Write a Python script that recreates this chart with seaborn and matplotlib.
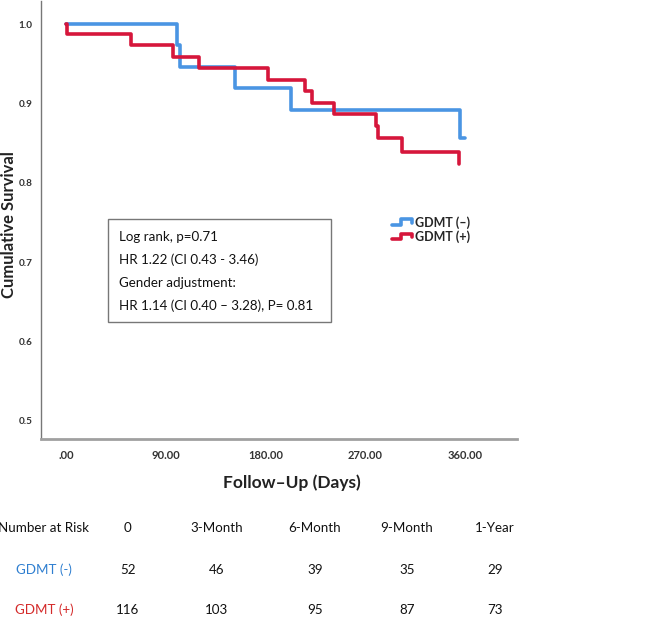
import matplotlib
matplotlib.use("Agg")
import matplotlib.pyplot as plt
import seaborn as sns
import pandas as pd
from matplotlib.lines import Line2D
from matplotlib.legend_handler import HandlerBase
from matplotlib.patches import Rectangle

# ---- data ----
neg_days = [0, 100.5, 102.6, 152.4, 203.4, 355.5, 360]
neg_surv = [1.0, 0.973, 0.946, 0.920, 0.892, 0.856, 0.856]
pos_days = [0, 0.5, 59, 96.6, 119.7, 182.4, 215.4, 222, 241.5, 279.6, 281.4, 303, 354.6]
pos_surv = [1.0, 0.987, 0.973, 0.958, 0.944, 0.930, 0.916, 0.901, 0.887, 0.871, 0.856, 0.839, 0.824]
groups = ["GDMT (\u2013)", "GDMT (+)"]
x_ticks = [0, 90, 180, 270, 360]
x_ticklabels = [".00", "90.00", "180.00", "270.00", "360.00"]
y_ticks = [0.5, 0.6, 0.7, 0.8, 0.9, 1.0]
y_ticklabels = ["0.5", "0.6", "0.7", "0.8", "0.9", "1.0"]
stats_lines = ["Log rank, p=0.71", "HR 1.22 (CI 0.43 - 3.46)", "Gender adjustment:",
               "HR 1.14 (CI 0.40 \u2013 3.28), P= 0.81"]
risk_headers = ["0", "3-Month", "6-Month", "9-Month", "1-Year"]
risk_neg = [52, 46, 39, 35, 29]
risk_pos = [116, 103, 95, 87, 73]

BLUE = "#4a95e3"
RED = "#d6163b"
TBLUE = "#2f7fd0"
TRED = "#d42a2a"

sns.set_style("white")
plt.rcParams["font.family"] = ["Lato", "DejaVu Sans"]

df = pd.concat([
    pd.DataFrame({"day": neg_days, "surv": neg_surv, "grp": groups[0]}),
    pd.DataFrame({"day": pos_days, "surv": pos_surv, "grp": groups[1]}),
])

fig = plt.figure(figsize=(6.5, 6.21), dpi=100)
ax = fig.add_axes([41 / 650, 1 - 439 / 621, 476 / 650, 438 / 621])

sns.lineplot(data=df, x="day", y="surv", hue="grp", palette=[BLUE, RED],
             estimator=None, sort=False, drawstyle="steps-post", lw=2.6,
             ax=ax, legend=False)

ax.set_xlim(-22.6, 407)
ax.set_ylim(0.4773, 1.029)
ax.set_xticks(x_ticks)
ax.set_xticklabels(x_ticklabels)
ax.set_yticks(y_ticks)
ax.set_yticklabels(y_ticklabels)
ax.tick_params(length=0, labelsize=8, colors="#333333")
ax.tick_params(axis="y", pad=6, labelsize=7.2)
ax.tick_params(axis="x", pad=8)
for lab in ax.get_xticklabels() + ax.get_yticklabels():
    lab.set_fontweight("bold")

for s in ["top", "right"]:
    ax.spines[s].set_visible(False)
ax.spines["left"].set_color("#777777")
ax.spines["left"].set_linewidth(1.0)
ax.spines["bottom"].set_color("#a0a0a0")
ax.spines["bottom"].set_linewidth(2.0)

ax.set_xlabel("Follow\u2013Up (Days)", fontsize=12.5, fontweight="bold", color="#222222")
ax.set_ylabel("Cumulative Survival", fontsize=12, fontweight="bold", color="#222222")
ax.xaxis.set_label_coords((292 - 41) / 476, -(474 - 439) / 438)
ax.yaxis.set_label_coords(-(41 - 17) / 476, 0.49)


class StepHandler(HandlerBase):
    def create_artists(self, legend, orig_handle, xdescent, ydescent, width,
                       height, fontsize, trans):
        x0 = -xdescent
        y0 = -ydescent
        xs = [x0, x0 + 0.45 * width, x0 + 0.45 * width, x0 + width, x0 + width]
        ys = [y0 + 0.2 * height, y0 + 0.2 * height, y0 + 0.85 * height,
              y0 + 0.85 * height, y0 + 0.45 * height]
        ln = Line2D(xs, ys, color=orig_handle.get_color(),
                    lw=orig_handle.get_linewidth(), transform=trans)
        return [ln]


handles = [Line2D([], [], color=BLUE, lw=2.6), Line2D([], [], color=RED, lw=2.6)]
leg = fig.legend(handles, groups, handler_map={Line2D: StepHandler()},
                 loc="upper left", bbox_to_anchor=(392 / 650, 1 - 216 / 621),
                 frameon=False, handlelength=1.6, handletextpad=0.25,
                 labelspacing=0.15, borderaxespad=0, borderpad=0,
                 prop={"weight": "bold", "size": 9})

# statistics box
fig.add_artist(Rectangle((108 / 650, 1 - 322 / 621), (331 - 108) / 650, (322 - 219) / 621,
                         transform=fig.transFigure, fill=False, edgecolor="#777777", lw=1.0))
for i, line in enumerate(stats_lines):
    fig.text(119 / 650, 1 - (237 + 23 * i) / 621, line, fontsize=9.6,
             va="center", ha="left", color="#111111")

# number at risk table
FS = 9.6
col_x = [128, 217, 315, 407, 495]
fig.text(44 / 650, 1 - 528 / 621, "Number at Risk", ha="center", va="center",
         fontsize=FS, color="#111111")
fig.text(44 / 650, 1 - 570 / 621, "GDMT (-)", ha="center", va="center",
         fontsize=FS, color=TBLUE)
fig.text(44 / 650, 1 - 610 / 621, "GDMT (+)", ha="center", va="center",
         fontsize=FS, color=TRED)
for cx, h, a, b in zip(col_x, risk_headers, risk_neg, risk_pos):
    fig.text(cx / 650, 1 - 528 / 621, h, ha="center", va="center", fontsize=FS, color="#111111")
    fig.text(cx / 650, 1 - 570 / 621, str(a), ha="center", va="center", fontsize=FS, color="#111111")
    fig.text(cx / 650, 1 - 610 / 621, str(b), ha="center", va="center", fontsize=FS, color="#111111")

fig.savefig("out.png", dpi=100)
